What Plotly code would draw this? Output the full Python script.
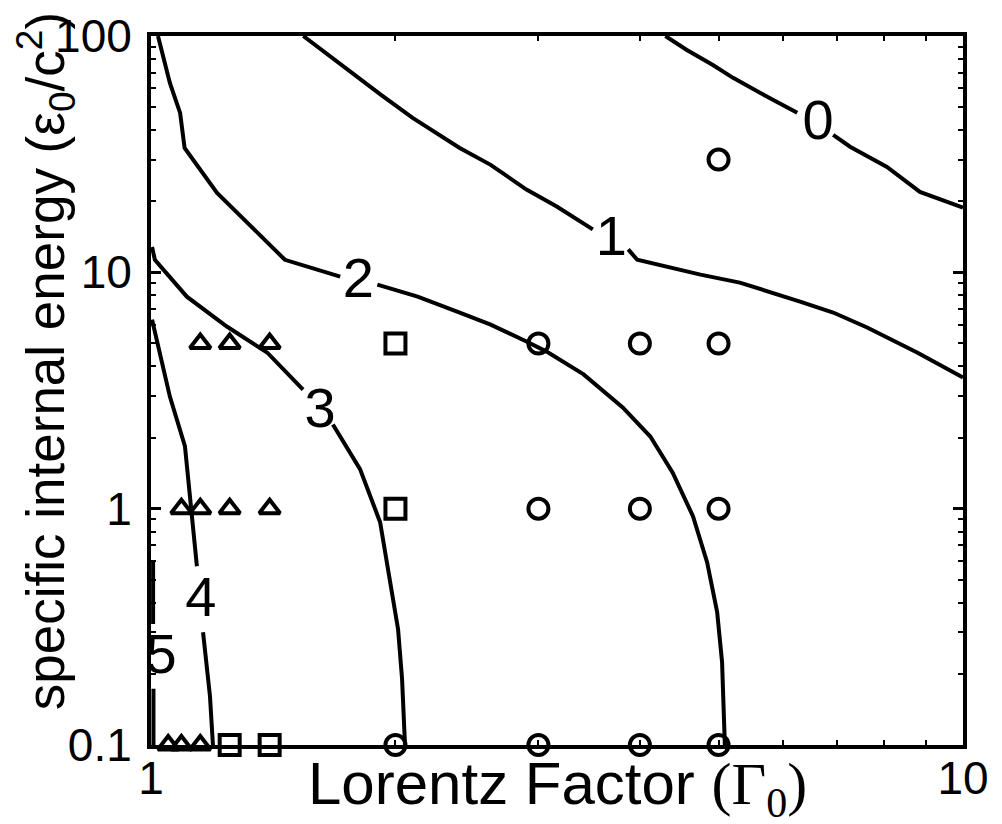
import plotly.graph_objects as go

# Curvas de contorno (None = hueco donde va la etiqueta)
c0_x = [4.30, 4.57, 4.92, 5.21, 5.74, 6.25, None, 6.92, 7.26, 8.06, 8.85, 10.0]
c0_y = [100, 87.3, 75.4, 66.5, 55.3, 47.3, None, 38.2, 34.0, 27.9, 21.9, 18.8]

c1_x = [1.54, 1.70, 1.92, 2.10, 2.40, 2.62, 2.90, 3.16, 3.50, None,
        3.87, 3.97, 4.75, 5.31, 6.30, 6.92, 7.62, 8.78, 10.0]
c1_y = [100, 76.9, 56.3, 45.0, 33.6, 28.5, 22.4, 19.0, 15.2, None,
        12.5, 11.3, 9.78, 9.05, 7.52, 6.76, 5.84, 4.58, 3.59]

c2_x = [1.02, 1.055, 1.086, 1.10, 1.206, 1.313, 1.39, 1.462, 1.71, None,
        1.90, 2.13, 2.40, 2.62, 2.90, 3.07, 3.41, 3.81, 4.12, 4.39, 4.65, 4.84, 4.98, 5.05, 5.09]
c2_y = [100, 63.3, 47.3, 33.6, 21.7, 16.2, 13.4, 11.3, 9.59, None,
        8.87, 7.89, 6.76, 6.01, 5.10, 4.62, 3.70, 2.68, 2.02, 1.42, 0.929, 0.594, 0.365, 0.224, 0.1]

c3_x = [1.003, 1.011, 1.107, 1.24, 1.39, 1.539, None, 1.675, 1.809, 1.915, 2.015, 2.038, 2.055]
c3_y = [12.8, 11.3, 7.89, 5.9, 4.58, 3.19, None, 2.27, 1.47, 0.876, 0.309, 0.19, 0.1]

c4_x = [1.003, 1.055, 1.101, 1.123, 1.139, None, 1.159, 1.182, 1.192]
c4_y = [6.31, 2.98, 1.84, 0.929, 0.571, None, 0.30, 0.161, 0.1]

c5_x = [1.006, 1.006, None, 1.007, 1.007]
c5_y = [0.6, 0.325, None, 0.173, 0.1]

contornos = [(c0_x, c0_y), (c1_x, c1_y), (c2_x, c2_y), (c3_x, c3_y), (c4_x, c4_y), (c5_x, c5_y)]

# Etiquetas de los contornos
etiquetas = ["0", "1", "2", "3", "4", "5"]
etq_x = [6.63, 3.69, 1.80, 1.615, 1.152, 1.029]
etq_y = [42.1, 13.6, 9.05, 2.55, 0.402, 0.231]

# Simulaciones
tri_x = [1.15, 1.25, 1.4, 1.09, 1.15, 1.25, 1.4, 1.05, 1.09, 1.15]
tri_y = [5, 5, 5, 1, 1, 1, 1, 0.1, 0.1, 0.1]
sq_x = [2, 2, 1.25, 1.4]
sq_y = [5, 1, 0.1, 0.1]
circ_x = [5, 3, 4, 5, 3, 4, 5, 2, 3, 4, 5]
circ_y = [30, 5, 5, 5, 1, 1, 1, 0.1, 0.1, 0.1, 0.1]

fig = go.Figure()

for cx, cy in contornos:
    fig.add_trace(go.Scatter(x=cx, y=cy, mode="lines", line=dict(color="black", width=4),
                             connectgaps=False, showlegend=False, hoverinfo="skip"))

fig.add_trace(go.Scatter(x=etq_x, y=etq_y, mode="text", text=etiquetas,
                         textfont=dict(family="Liberation Sans", size=56, color="black"),
                         showlegend=False))

fig.add_trace(go.Scatter(x=tri_x, y=tri_y, mode="markers", cliponaxis=False,
                         marker=dict(symbol="triangle-up-open", size=18, color="black",
                                     line=dict(width=4)), showlegend=False))
fig.add_trace(go.Scatter(x=sq_x, y=sq_y, mode="markers", cliponaxis=False,
                         marker=dict(symbol="square-open", size=20, color="black",
                                     line=dict(width=4)), showlegend=False))
fig.add_trace(go.Scatter(x=circ_x, y=circ_y, mode="markers", cliponaxis=False,
                         marker=dict(symbol="circle-open", size=20, color="black",
                                     line=dict(width=4)), showlegend=False))

ejes = dict(type="log", showline=True, linewidth=4, linecolor="black", mirror="ticks",
            ticks="inside", ticklen=10, tickwidth=3, tickcolor="black",
            showgrid=False, zeroline=False, automargin=False,
            minor=dict(ticks="inside", ticklen=5, tickwidth=2, tickcolor="black",
                       dtick="D1", showgrid=False),
            tickfont=dict(family="Liberation Sans", size=46, color="black"))

fig.update_xaxes(range=[0, 1], tickvals=[1, 10], ticktext=["1", "10"],
                 ticklabelstandoff=-10, **ejes)
fig.update_yaxes(range=[-1, 2], tickvals=[0.1, 1, 10, 100], ticktext=["0.1", "1", "10", "100"],
                 ticklabelstandoff=6, **ejes)

# la página añade 8 px de margen al cuerpo
fig.update_layout(
    width=1002, height=824,
    margin=dict(l=143, r=47, t=28, b=87),
    plot_bgcolor="white", paper_bgcolor="white",
    annotations=[
        dict(text="Lorentz Factor <span style='font-family:Liberation Serif'>(Γ<sub>0</sub>)</span>",
             xref="paper", yref="paper", x=0.5, y=-0.06, yanchor="middle", showarrow=False,
             font=dict(family="Liberation Sans", size=60, color="black")),
        dict(text="specific internal energy (ε<sub>0</sub>/c<sup>2</sup>)",
             xref="paper", yref="paper", x=-0.13, y=0.542, textangle=-90,
             xanchor="center", yanchor="middle", showarrow=False,
             font=dict(family="Liberation Sans", size=53, color="black")),
    ])

fig.write_html("out.html")
